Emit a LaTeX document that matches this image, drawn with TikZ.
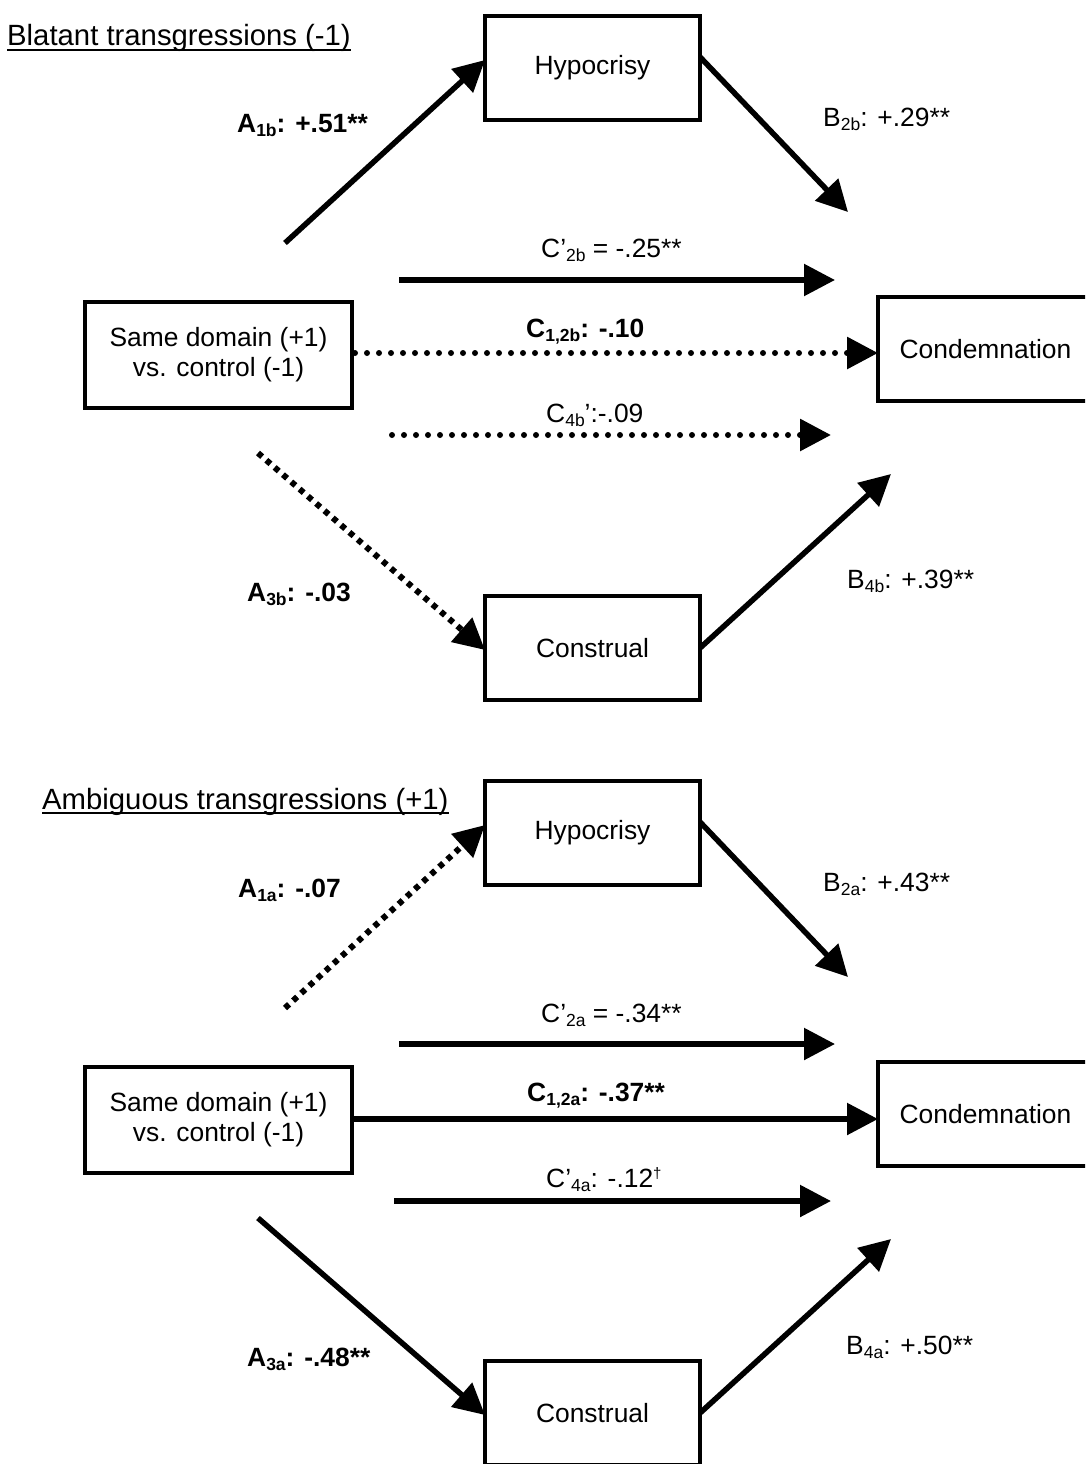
\documentclass[tikz,border=0pt]{standalone}
\usepackage{fontspec}
\setmainfont{Liberation Sans}
\usetikzlibrary{arrows.meta}
\newcommand{\lsub}[1]{\raisebox{-4pt}{\fontsize{17.5}{17.5}\selectfont #1}}
\newcommand{\lsup}[1]{\raisebox{9pt}{\fontsize{15}{15}\selectfont #1}}
\begin{document}
\begin{tikzpicture}[x=1pt,y=-1pt,
  box/.style={draw, line width=4pt, minimum width=215pt, minimum height=104pt,
    inner sep=0pt, outer sep=0pt, font=\fontsize{26.4}{30}\selectfont, align=center},
  widebox/.style={box, minimum width=267pt, minimum height=106pt},
  lbl/.style={anchor=base west, inner sep=0pt, font=\fontsize{26.4}{30}\selectfont},
  blbl/.style={anchor=base west, inner sep=0pt, font=\fontsize{26.4}{30}\selectfont\bfseries},
  ttl/.style={anchor=base west, inner sep=0pt, font=\fontsize{29.3}{33}\selectfont},
  uline/.style={line width=1.5pt},
  arr/.style={line width=5.5pt, -{Triangle[length=31pt,width=31pt]}},
  hdots/.style={arr, line cap=round, dash pattern=on 0pt off 12pt, line width=6pt},
  ddots/.style={arr, dash pattern=on 5.5pt off 5.5pt, line width=6pt},
]
\useasboundingbox (0,0) rectangle (1085,1464);
\clip (0,0) rectangle (1085,1464);

% ---------------- Top panel ----------------
\node[ttl] (t1) at (7,46) {Blatant transgressions (-1)};
\draw[uline] ([yshift=-4pt]t1.base west) -- ([yshift=-4pt]t1.base east);

\node[box] (hyp1) at (592.5,68) {Hypocrisy};
\node[widebox] (dom1) at (218.5,355) {Same domain (+1)\\vs. control (-1)};
\node[box] (cond1) at (985.5,349) {Condemnation};
\node[box] (cons1) at (592.5,648) {Construal};

\coordinate (a1s) at (285,243);
\coordinate (b2e) at (848,212);
\coordinate (c2s) at (399,280);
\coordinate (c2e) at (835,280);
\coordinate (c12) at (0,353);
\coordinate (c4s) at (392,435);
\coordinate (c4e) at (831,435);
\coordinate (a3s) at (258,453);
\coordinate (b4e) at (891,474);

\draw[arr] (a1s) -- ([yshift=8pt]hyp1.west);
\draw[arr] ([yshift=11pt]hyp1.east) -- (b2e);
\draw[arr] (c2s) -- (c2e);
\draw[hdots] ([xshift=3pt]dom1.east |- c12) -- (cond1.west |- c12);
\draw[hdots] (c4s) -- (c4e);
\draw[ddots] (a3s) -- ([yshift=-2pt]cons1.west);
\draw[arr] (cons1.east) -- (b4e);

\node[blbl] (la1b) at (237,132) {A\lsub{1b}: +.51**};
\node[lbl] (lb2b) at (823,126.5) {B\lsub{2b}: +.29**};
\node[lbl] (lc2b) at (541,257.5) {C’\lsub{2b} = -.25**};
\node[blbl] (lc12b) at (526,337.5) {C\lsub{1,2b}: -.10};
\node[lbl] (lc4b) at (546,422.5) {C\lsub{4b}’:-.09};
\node[blbl] (la3b) at (247,601.5) {A\lsub{3b}: -.03};
\node[lbl] (lb4b) at (847,588.5) {B\lsub{4b}: +.39**};

% ---------------- Bottom panel ----------------
\node[ttl] (t2) at (42,809) {Ambiguous transgressions (+1)};
\draw[uline] ([yshift=-4pt]t2.base west) -- ([yshift=-4pt]t2.base east);

\node[box] (hyp2) at (592.5,833) {Hypocrisy};
\node[widebox] (dom2) at (218.5,1120) {Same domain (+1)\\vs. control (-1)};
\node[box] (cond2) at (985.5,1114) {Condemnation};
\node[box] (cons2) at (592.5,1413) {Construal};

\coordinate (a1sa) at (285,1008);
\coordinate (b2ea) at (848,977);
\coordinate (c2sa) at (399,1044);
\coordinate (c2ea) at (835,1044);
\coordinate (c12a) at (0,1119);
\coordinate (c4sa) at (394,1201);
\coordinate (c4ea) at (831,1201);
\coordinate (a3sa) at (258,1218);
\coordinate (b4ea) at (891,1239);

\draw[ddots] (a1sa) -- ([yshift=8pt]hyp2.west);
\draw[arr] ([yshift=11pt]hyp2.east) -- (b2ea);
\draw[arr] (c2sa) -- (c2ea);
\draw[arr] (dom2.east |- c12a) -- (cond2.west |- c12a);
\draw[arr] (c4sa) -- (c4ea);
\draw[arr] (a3sa) -- ([yshift=-2pt]cons2.west);
\draw[arr] (cons2.east) -- (b4ea);

\node[blbl] (la1a) at (238,897) {A\lsub{1a}: -.07};
\node[lbl] (lb2a) at (823,891.5) {B\lsub{2a}: +.43**};
\node[lbl] (lc2a) at (541,1022) {C’\lsub{2a} = -.34**};
\node[blbl] (lc12a) at (527,1101.5) {C\lsub{1,2a}: -.37**};
\node[lbl] (lc4a) at (546,1187.5) {C’\lsub{4a}: -.12\lsup{†}};
\node[blbl] (la3a) at (247,1366.5) {A\lsub{3a}: -.48**};
\node[lbl] (lb4a) at (846,1354.5) {B\lsub{4a}: +.50**};
\end{tikzpicture}
\end{document}
